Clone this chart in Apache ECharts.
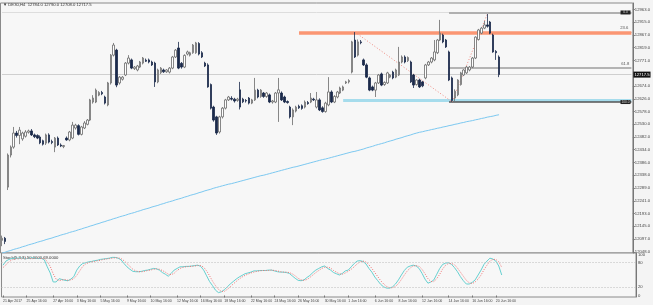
<!DOCTYPE html>
<html><head><meta charset="utf-8">
<script src="https://cdn.jsdelivr.net/npm/echarts@6/dist/echarts.min.js"></script>
<style>html,body{margin:0;padding:0;background:#f4f4f4}#c{width:653px;height:305px}</style>
</head><body><div id="c"></div>
<script>
const opens=[12092,12100,12293,12414,12444,12497,12488,12475,12485,12500,12505,12490,12488,12482,12468,12459,12490,12465,12444,12478,12452,12446,12478,12471,12478,12516,12525,12492,12516,12530,12546,12614,12614,12640,12650,12633,12603,12686,12791,12810,12686,12700,12716,12761,12773,12740,12735,12746,12761,12772,12773,12765,12761,12690,12725,12735,12728,12727,12742,12784,12818,12760,12746,12795,12791,12800,12800,12835,12800,12761,12754,12680,12595,12558,12501,12558,12591,12622,12628,12625,12620,12660,12625,12620,12629,12610,12622,12659,12635,12648,12635,12641,12614,12614,12648,12648,12633,12616,12595,12558,12580,12598,12600,12595,12612,12614,12625,12595,12622,12592,12578,12603,12652,12614,12633,12648,12659,12686,12690,12727,12848,12791,12841,12773,12754,12705,12671,12659,12686,12720,12680,12686,12708,12727,12708,12716,12765,12784,12770,12765,12716,12680,12697,12690,12705,12754,12765,12773,12800,12848,12867,12848,12803,12705,12629,12641,12680,12716,12724,12735,12746,12780,12850,12874,12893,12905,12916,12867,12805,12784];
const highs=[12110,12105,12420,12450,12520,12505,12520,12502,12508,12510,12512,12495,12492,12488,12472,12495,12496,12472,12482,12484,12458,12452,12484,12505,12539,12532,12530,12524,12542,12550,12626,12640,12665,12655,12656,12638,12690,12795,12837,12815,12712,12712,12765,12791,12778,12750,12754,12769,12784,12778,12778,12770,12766,12740,12746,12740,12738,12746,12788,12814,12841,12765,12794,12808,12804,12833,12841,12840,12806,12766,12760,12684,12600,12562,12562,12595,12626,12637,12636,12630,12630,12690,12630,12625,12633,12626,12705,12664,12663,12652,12652,12646,12622,12652,12705,12654,12638,12620,12600,12590,12600,12604,12605,12620,12618,12648,12630,12652,12628,12598,12615,12708,12658,12640,12656,12672,12676,12694,12700,12845,12878,12850,12848,12778,12760,12710,12676,12690,12720,12725,12692,12728,12720,12732,12740,12822,12790,12790,12786,12770,12720,12700,12702,12694,12758,12769,12784,12848,12852,12924,12872,12852,12808,12710,12662,12700,12728,12738,12750,12750,12784,12862,12890,12897,12920,12946,12920,12872,12810,12790];
const lows=[12070,12078,12282,12405,12438,12480,12455,12468,12480,12495,12486,12478,12474,12455,12450,12452,12458,12455,12425,12448,12444,12440,12468,12466,12474,12510,12488,12488,12512,12526,12542,12608,12610,12636,12640,12605,12598,12680,12786,12670,12680,12695,12712,12756,12738,12735,12730,12742,12756,12765,12760,12750,12671,12685,12720,12724,12724,12722,12738,12780,12738,12740,12742,12790,12786,12796,12796,12790,12780,12746,12668,12586,12540,12490,12495,12552,12586,12618,12620,12612,12615,12586,12610,12612,12605,12606,12618,12628,12630,12630,12630,12610,12608,12610,12539,12618,12610,12608,12552,12527,12575,12588,12585,12590,12604,12610,12618,12590,12580,12574,12574,12598,12610,12610,12628,12644,12655,12682,12684,12722,12780,12786,12832,12750,12704,12655,12655,12633,12682,12674,12675,12682,12704,12700,12704,12712,12760,12760,12765,12686,12667,12676,12667,12670,12700,12750,12760,12768,12795,12844,12836,12818,12693,12615,12618,12636,12676,12712,12720,12730,12742,12776,12846,12870,12889,12895,12870,12800,12773,12708];
const closes=[12100,12088,12414,12444,12497,12488,12508,12497,12501,12505,12490,12483,12478,12460,12455,12490,12463,12461,12478,12452,12448,12450,12471,12501,12527,12527,12492,12520,12535,12546,12622,12629,12659,12650,12645,12610,12686,12791,12829,12678,12708,12708,12761,12780,12742,12746,12750,12765,12780,12768,12765,12754,12690,12735,12742,12728,12735,12742,12784,12810,12742,12746,12790,12803,12800,12829,12837,12795,12784,12750,12671,12591,12546,12497,12558,12591,12622,12633,12625,12618,12625,12595,12615,12618,12610,12622,12659,12633,12659,12635,12648,12614,12618,12648,12660,12622,12614,12612,12558,12584,12595,12592,12590,12614,12608,12629,12622,12622,12584,12578,12610,12652,12614,12635,12652,12667,12671,12690,12695,12841,12784,12841,12838,12754,12708,12659,12659,12686,12716,12678,12688,12724,12716,12705,12735,12765,12784,12765,12782,12690,12678,12697,12671,12675,12754,12765,12780,12803,12848,12874,12841,12822,12697,12620,12655,12697,12724,12735,12746,12746,12780,12859,12886,12893,12905,12900,12874,12803,12800,12717.5];
const maValues=[12044,12047,12051,12054,12058,12061,12064,12068,12071,12075,12078,12081,12085,12088,12091,12095,12098,12101,12105,12108,12112,12115,12118,12122,12125,12128,12132,12135,12139,12142,12146,12149,12153,12156,12160,12163,12167,12170,12174,12177,12181,12184,12187,12191,12194,12197,12201,12204,12208,12211,12214,12218,12221,12224,12228,12231,12235,12238,12241,12245,12248,12251,12255,12258,12262,12265,12268,12272,12275,12279,12282,12285,12289,12292,12295,12298,12301,12304,12306,12309,12312,12315,12318,12321,12324,12327,12330,12333,12336,12338,12341,12344,12347,12350,12353,12356,12359,12362,12365,12368,12370,12373,12376,12379,12382,12385,12388,12391,12394,12397,12399,12402,12405,12408,12411,12414,12417,12420,12423,12426,12428,12431,12434,12437,12441,12444,12447,12451,12454,12457,12460,12464,12467,12470,12474,12477,12480,12484,12487,12490,12494,12497,12500,12502,12505,12507,12510,12512,12515,12517,12520,12522,12525,12527,12530,12532,12535,12537,12540,12542,12544,12547,12549,12552,12554,12557,12559,12561,12564,12566];
const stochMain=[74,84,88,90,91,91,92,91,90,91,92,91,90,91,87,70,55,33,33,41,39,37,36,40,46,62,72,78,80,82,83,85,86,88,89,90,91,93,93,91,87,78,70,64,59,58,58,59,61,62,64,66,65,62,56,52,47,54,62,66,70,70,71,71,72,73,74,71,62,48,34,24,13,7,9,14,21,28,34,40,45,49,53,55,57,60,60,61,61,61,62,62,60,58,57,57,56,54,48,42,37,36,38,44,49,56,62,66,70,72,66,62,56,53,50,54,60,62,70,78,84,85,83,77,66,57,45,36,27,21,18,18,21,28,38,50,61,69,72,74,72,66,54,40,30,33,38,52,66,76,79,80,76,68,58,46,36,28,28,32,38,50,62,76,84,91,89,84,72,50];
const stochSignal=[68,75,82,87,89,90,91,91,91,90,90,91,91,90,90,83,71,53,40,36,38,39,37,38,41,49,60,71,77,80,82,83,85,86,88,89,90,91,92,92,90,85,78,71,64,60,58,58,59,61,62,64,65,64,61,57,52,51,54,61,66,69,70,71,71,72,73,73,69,60,48,35,24,15,10,10,15,21,28,34,40,45,49,52,55,57,59,60,61,61,61,62,61,60,58,57,57,56,53,48,42,38,37,39,44,50,56,61,66,69,69,67,61,57,53,52,55,59,64,70,77,82,84,82,75,66,56,46,36,28,22,19,19,22,29,39,50,60,67,72,73,71,64,53,41,34,34,41,52,65,74,78,78,75,67,57,47,37,31,29,33,40,50,63,74,84,88,88,82,69];
const dateLabels=["21 Apr 2017","25 Apr 16:00","27 Apr 16:00","3 May 16:00","5 May 16:00","9 May 16:00","10 May 16:00","12 May 16:00","16 May 16:00","18 May 16:00","22 May 16:00","24 May 16:00","26 May 16:00","30 May 16:00","1 Jun 16:00","6 Jun 16:00","8 Jun 16:00","12 Jun 16:00","14 Jun 16:00","16 Jun 16:00","20 Jun 16:00"];
const dateLabelBars=[0,8,17,25,33,42,50,59,67,75,84,92,100,109,117,126,134,142,151,159,167];
const priceTicks=[12048,12097,12145,12193,12241,12289,12338,12386,12434,12482,12530,12578,12626,12674,12771,12819,12867,12915,12963];
const stochLevels=[100,80,20,0];
const currentPrice=12717.5;
const topLevel=12952, orangeLevel=12874, fib618=12742, supportLevel=12622, lowLevel=12614;
const swingHighBar=120, swingLowBar=153, swingTopBar=165;

const TOTAL=215;
const cats=[]; for(let i=0;i<TOTAL;i++) cats.push(String(i));
const labelMap={}; dateLabelBars.forEach((b,k)=>labelMap[b]=dateLabels[k]);
const candle=opens.map((o,i)=>[o,closes[i],lows[i],highs[i]]);
const FS=4.2, XFS=3.5, TC='#444', FF='Liberation Sans';
const chart=echarts.init(document.getElementById('c'),null,{renderer:'canvas'});
const hl=(x1,v,col,w,type,label)=>[{coord:[x1,v],lineStyle:{color:col,width:w,type:type||'solid'},label:label||{show:false}},{coord:[TOTAL-1,v]}];
chart.setOption({
  animation:false,
  backgroundColor:'#f4f4f4',
  grid:[{left:0.5,top:3,width:635.5,height:250,show:true,backgroundColor:'#f7f7f7',borderColor:'#8a8a8a',borderWidth:1},
        {left:0.5,top:253,width:635.5,height:44,show:true,backgroundColor:'#f7f7f7',borderColor:'#8a8a8a',borderWidth:1}],
  xAxis:[{type:'category',data:cats,gridIndex:0,boundaryGap:true,axisLine:{show:false},axisTick:{show:false},axisLabel:{show:false}},
         {type:'category',data:cats,gridIndex:1,boundaryGap:true,axisLine:{show:false},
          axisTick:{show:true,alignWithLabel:true,interval:(i)=>labelMap[i]!==undefined,length:2,lineStyle:{color:'#777'}},
          axisLabel:{show:true,showMinLabel:true,showMaxLabel:true,hideOverlap:false,interval:(i)=>labelMap[i]!==undefined,formatter:(v,i)=>labelMap[i]||'',fontSize:XFS,color:TC,align:'left',margin:2,fontFamily:FF}}],
  yAxis:[{type:'value',gridIndex:0,position:'right',min:12044.4,max:12987.7,scale:true,splitLine:{show:false},
          axisLine:{show:true,lineStyle:{color:'#777'}},
          axisTick:{show:true,length:2,customValues:priceTicks,lineStyle:{color:'#777'}},
          axisLabel:{show:true,customValues:priceTicks,formatter:(v)=>v.toFixed(1),fontSize:FS,color:TC,margin:2,fontFamily:FF}},
         {type:'value',gridIndex:1,position:'right',min:-3.7,max:103.7,splitLine:{show:false},axisLine:{show:true,lineStyle:{color:'#777'}},axisTick:{show:false},axisLabel:{show:false}}],
  series:[
    {type:'line',name:'MA',data:maValues,xAxisIndex:0,yAxisIndex:0,showSymbol:false,lineStyle:{color:'#7cc8f0',width:1},z:1,silent:true},
    {type:'candlestick',data:candle,xAxisIndex:0,yAxisIndex:0,barWidth:2,z:3,
     itemStyle:{color:'#ffffff',color0:'#1b2a4a',borderColor:'#6a6a6a',borderColor0:'#1b2a4a',borderWidth:0.8},
     markLine:{silent:true,symbol:'none',animation:false,z:2,
       data:[
         hl(0,currentPrice,'#cfcfcf',1,'solid',{show:true,position:'end',formatter:currentPrice.toFixed(1),color:'#fff',backgroundColor:'#111',fontSize:FS,padding:[1,1],distance:2,fontFamily:FF}),
         hl(0,topLevel,'#dddddd',1),
         hl(swingLowBar-1,topLevel,'#b0b0b0',2),
         hl(101,orangeLevel+2,'#9a9a9a',1),
         hl(101,orangeLevel,'#fb9673',3.5,'solid',{show:true,position:'insideEndTop',formatter:'23.6',color:'#555',fontSize:FS,distance:3,fontFamily:FF}),
         hl(swingLowBar-1,fib618,'#b4b4b4',2,'solid',{show:true,position:'insideEndTop',formatter:'61.8',color:'#555',fontSize:FS,distance:2,fontFamily:FF}),
         hl(116,supportLevel,'#a6dcec',3),
         hl(swingLowBar-1,lowLevel,'#555',1.5),
         [{coord:[swingHighBar,highs[swingHighBar]],lineStyle:{color:'#f08a80',width:1,type:[1,2]}},{coord:[swingLowBar,lows[swingLowBar]]}],
         [{coord:[swingLowBar,lows[swingLowBar]],lineStyle:{color:'#f08a80',width:1,type:[1,2]}},{coord:[swingTopBar,highs[swingTopBar]]}]
       ]},
     markPoint:{silent:true,animation:false,
       data:[{coord:[TOTAL-3,topLevel],symbol:'rect',symbolSize:[10,4],itemStyle:{color:'#222'},label:{show:true,formatter:'0.0',color:'#ddd',fontSize:3.2}},
             {coord:[TOTAL-3,lowLevel],symbol:'rect',symbolSize:[10,4],itemStyle:{color:'#222'},label:{show:true,formatter:'100.0',color:'#ddd',fontSize:3.2}}]}
    },
    {type:'line',name:'Main',data:stochMain,xAxisIndex:1,yAxisIndex:1,showSymbol:false,lineStyle:{color:'#66d0d0',width:1},silent:true,
     markLine:{silent:true,symbol:'none',animation:false,
       data:stochLevels.map(v=>({yAxis:v,lineStyle:{color:(v===80||v===20)?'#bbbbbb':'rgba(0,0,0,0)',width:1,type:[1,2]},
         label:{show:true,position:'end',formatter:String(v),fontSize:FS,color:TC,distance:2,fontFamily:FF}}))}},
    {type:'line',name:'Signal',data:stochSignal,xAxisIndex:1,yAxisIndex:1,showSymbol:false,lineStyle:{color:'#f07070',width:1,type:[1,1.5]},silent:true}
  ],
  graphic:[
    {type:'text',left:3,top:2.5,style:{text:'▼ DE30,H4  12784.0 12790.0 12708.0 12717.5',fontSize:FS,fill:'#333',fontFamily:FF}},
    {type:'text',left:3,top:256,style:{text:'Stoch(5,3,3) 50.0000 69.0000',fontSize:FS,fill:'#333',fontFamily:FF}}
  ]
});
</script></body></html>
